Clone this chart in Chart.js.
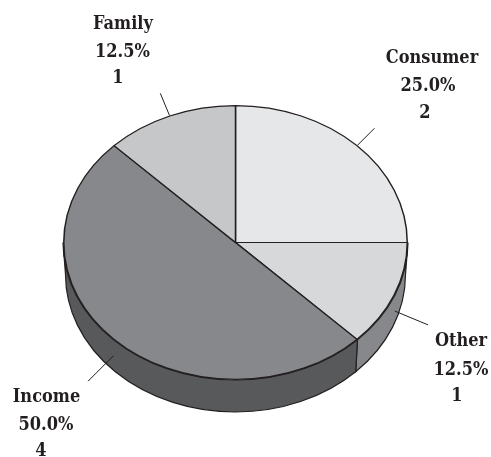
<!DOCTYPE html>
<html>
<head>
<meta charset="utf-8">
<title>Pie</title>
<script src="https://cdn.jsdelivr.net/npm/chart.js@4/dist/chart.umd.min.js"></script>
<style>
  html, body { margin: 0; padding: 0; background: #fff; }
  canvas { display: block; }
</style>
</head>
<body>
<canvas id="chart" width="491" height="457"></canvas>
<script>
const categories = ['Consumer', 'Other', 'Income', 'Family'];
const counts = [2, 1, 4, 1];
const topColors = ['#e6e7e8', '#d7d8da', '#87888b', '#c6c7c9'];
const wallColors = ['#b5b6b8', '#87888b', '#58595b', '#a0a1a3'];

const INK = '#231f20';
const FONT = 'bold 18px "DejaVu Serif Condensed", "DejaVu Serif", serif';

// where the tilted disc sits on the page
const centerX = 235.5, centerY = 242.5;
const radiusX = 172.5, radiusY = 137.5;
const depth = 32, wallInset = 2.5;

// label text placement, one entry per line, same order as categories
const labelX = [[432, 428, 425], [461, 461, 457], [46.5, 46, 41], [123, 122.5, 118]];
const labelY = [[58, 86, 113], [341, 370, 396], [397, 425, 451], [24, 52, 78]];
const leaderLength = [24, 36, 36, 24];

// squash the round pie into an ellipse
function applyTilt(chart) {
  const ctx = chart.ctx;
  const arc = chart.getDatasetMeta(0).data[0];
  ctx.translate(0, centerY);
  ctx.scale(1, radiusY / radiusX);
  ctx.translate(0, -arc.y);
}

const tiltPlugin = {
  id: 'tilt',
  beforeDatasetsDraw(chart) {
    const ctx = chart.ctx;
    // side wall, only the part of each slice that faces the viewer
    chart.getDatasetMeta(0).data.forEach((arc, i) => {
      const a = Math.max(arc.startAngle, 0);
      const b = Math.min(arc.endAngle, Math.PI);
      if (b <= a) return;
      ctx.beginPath();
      ctx.ellipse(centerX, centerY, radiusX, radiusY, 0, a, b);
      ctx.ellipse(centerX, centerY + depth, radiusX - wallInset, radiusY, 0, b, a, true);
      ctx.closePath();
      ctx.fillStyle = wallColors[i];
      ctx.fill();
      ctx.strokeStyle = INK;
      ctx.lineWidth = 1.2;
      ctx.stroke();
    });
    ctx.save();
    applyTilt(chart);
  },
  afterDatasetsDraw(chart) {
    const ctx = chart.ctx;
    ctx.restore();
    const total = counts.reduce((s, v) => s + v, 0);
    chart.getDatasetMeta(0).data.forEach((arc, i) => {
      // leader line leaves the rim at the middle of the slice
      const mid = (arc.startAngle + arc.endAngle) / 2;
      const cos = Math.cos(mid), sin = Math.sin(mid);
      const x0 = centerX + radiusX * cos;
      const y0 = centerY + radiusY * sin + (sin > 0 ? depth / 2 : 0);
      ctx.beginPath();
      ctx.moveTo(x0, y0);
      ctx.lineTo(x0 + leaderLength[i] * cos, y0 + leaderLength[i] * sin);
      ctx.strokeStyle = INK;
      ctx.lineWidth = 1;
      ctx.stroke();

      const lines = [categories[i], (counts[i] / total * 100).toFixed(1) + '%', String(counts[i])];
      ctx.font = FONT;
      ctx.fillStyle = INK;
      ctx.textAlign = 'center';
      ctx.textBaseline = 'middle';
      lines.forEach((t, j) => ctx.fillText(t, labelX[i][j], labelY[i][j]));
    });
  }
};

new Chart(document.getElementById('chart'), {
  type: 'pie',
  data: {
    labels: categories,
    datasets: [{
      data: counts,
      backgroundColor: topColors,
      borderColor: INK,
      borderWidth: 1.5,
      clip: false
    }]
  },
  options: {
    responsive: false,
    animation: false,
    layout: { padding: { left: 63, right: 83, top: 56, bottom: 56 } },
    plugins: { legend: { display: false }, tooltip: { enabled: false } }
  },
  plugins: [tiltPlugin]
});
</script>
</body>
</html>
